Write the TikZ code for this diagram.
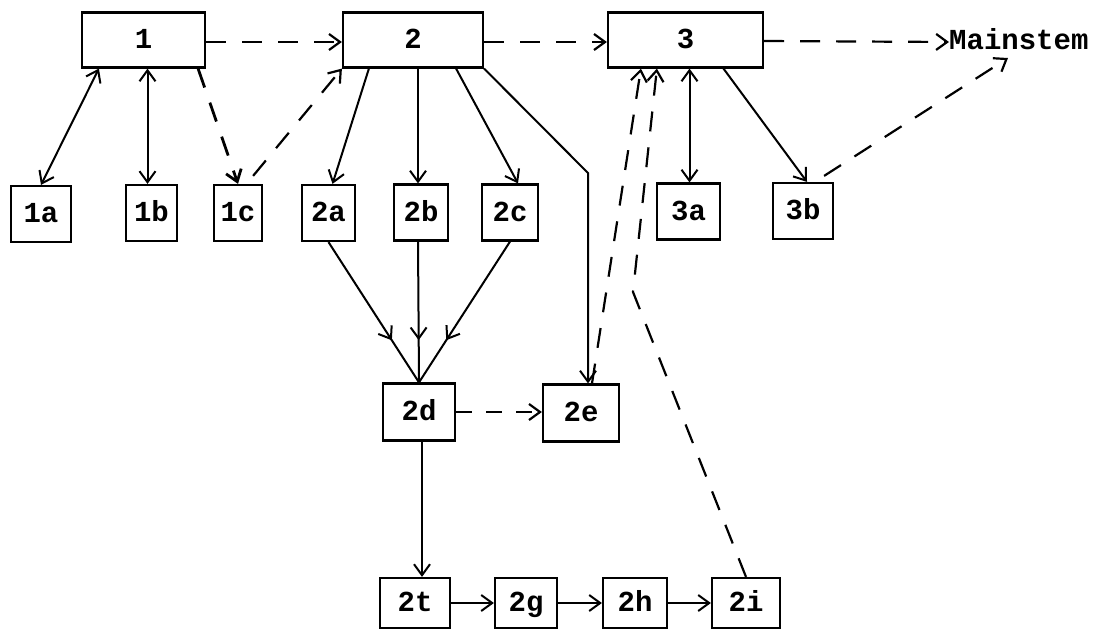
\documentclass[tikz,border=0pt]{standalone}
\usepackage{fontspec}
\setmonofont{Liberation Mono}
\usetikzlibrary{arrows.meta,decorations.markings,calc}
\begin{document}
\begin{tikzpicture}[x=1pt,y=-1pt,
  >={Straight Barb[length=11pt,width=16pt]},
  txt/.style={font=\fontsize{29}{30}\selectfont\ttfamily\bfseries},
  box/.style={draw, line width=2.2pt, inner sep=0pt, txt, text height=17pt, text depth=0pt},
  big/.style={box, minimum height=55pt},
  small/.style={box, minimum height=56pt},
  ln/.style={line width=2pt},
  dsh/.style={line width=2.2pt, dash pattern=on 20pt off 16pt},
  midarrow/.style={postaction={decorate}, decoration={markings,
      mark=at position 0.7 with {\arrow{Straight Barb[length=11pt,width=16pt]}}}}
]
\useasboundingbox[fill=white] (0,0) rectangle (1104,632);

% top boxes
\node[big, minimum width=123pt] (n1) at (143.5,40) {1};
\node[big, minimum width=140pt] (n2) at (413,40) {2};
\node[big, minimum width=155pt] (n3) at (685.5,40) {3};
\node[txt, anchor=west, inner sep=0pt, text height=17pt, text depth=0pt] (ms) at (949,41) {Mainstem};

% second row
\node[small, minimum width=60pt] (n1a) at (41,214) {1a};
\node[small, minimum width=51pt] (n1b) at (151.5,213) {1b};
\node[small, minimum width=48pt] (n1c) at (238,213) {1c};
\node[small, minimum width=53pt] (n2a) at (328.5,213) {2a};
\node[small, minimum width=54pt] (n2b) at (421,212.5) {2b};
\node[small, minimum width=56pt] (n2c) at (510,212.5) {2c};
\node[small, minimum width=63pt] (n3a) at (688.5,211.5) {3a};
\node[small, minimum width=60pt] (n3b) at (803,211) {3b};

% middle
\node[box, minimum width=72pt, minimum height=57pt] (n2d) at (419,412) {2d};
\node[box, minimum width=76pt, minimum height=57pt] (n2e) at (581,413) {2e};

% bottom row
\node[box, minimum width=70pt, minimum height=50pt] (n2t) at (415,603) {2t};
\node[box, minimum width=62pt, minimum height=50pt] (n2g) at (526,603) {2g};
\node[box, minimum width=64pt, minimum height=50pt] (n2h) at (635,603) {2h};
\node[box, minimum width=68pt, minimum height=50pt] (n2i) at (746,603) {2i};

\coordinate (bendA) at (588,173);
\coordinate (bendB) at (633,292);
\coordinate (mstip) at (1008,58);

% top horizontal dashed
\draw[dsh,->] ($(n1.east)+(0,2)$) -- ($(n2.west)+(0,2)$);
\draw[dsh,->] ($(n2.east)+(0,2)$) -- ($(n3.west)+(0,2)$);
\draw[dsh,->] ($(n3.east)+(0,1)$) -- ($(ms.west)+(0,1)$);

% box 1 links
\draw[ln,<->] ($(n1.south west)+(18,0)$) -- (n1a.north);
\draw[ln,<->] ($(n1b.north |- n1.south)+(-4,0)$) -- ($(n1b.north)+(-4,0)$);
\draw[dsh,->,line width=2.8pt] ($(n1.south east)+(-8,0)$) -- (n1c.north);
\draw[dsh,->] ($(n1c.north east)+(-10,-8)$) -- (n2.south west);

% box 2 links
\draw[ln,->] ($(n2.south west)+(27,0)$) -- ($(n2a.north)+(4,0)$);
\draw[ln,->] ($(n2b.north |- n2.south)+(-3,0)$) -- ($(n2b.north)+(-3,0)$);
\draw[ln,->] ($(n2.south east)+(-28,0)$) -- ($(n2c.north)+(8,0)$);
\draw[ln,->] (n2.south east) -- (bendA) -- (bendA |- n2e.north);

% box 3 links
\draw[ln,<->] ($(n3a.north |- n3.south)+(1,0)$) -- ($(n3a.north)+(1,0)$);
\draw[ln,->] ($(n3.south)+(38,0)$) -- ($(n3b.north)+(4,0)$);
\draw[dsh,->] ($(n3b.north east)+(-10,-6)$) -- (mstip);

% converging into 2d
\draw[ln,midarrow] (n2a.south) -- (n2d.north);
\draw[ln,midarrow] ($(n2b.south)+(-3,0)$) -- (n2d.north);
\draw[ln,midarrow] (n2c.south) -- (n2d.north);

% 2d links
\draw[dsh,->,dash pattern=on 16pt off 14pt] (n2d.east) -- (n2d.east -| n2e.west);
\draw[ln,->] ($(n2d.south)+(3,0)$) -- ($(n2d.south |- n2t.north)+(3,0)$);

% bottom chain
\draw[ln,->] (n2t.east) -- (n2g.west);
\draw[ln,->] (n2g.east) -- (n2h.west);
\draw[ln,->] (n2h.east) -- (n2i.west);

% dashed returns to 3
\draw[dsh,->] ($(n2e.north)+(11,0)$) -- ($(n3.south west)+(34,0)$);
\draw[dsh,->] (n2i.north) -- (bendB) -- ($(n3.south west)+(50,0)$);
\end{tikzpicture}
\end{document}
